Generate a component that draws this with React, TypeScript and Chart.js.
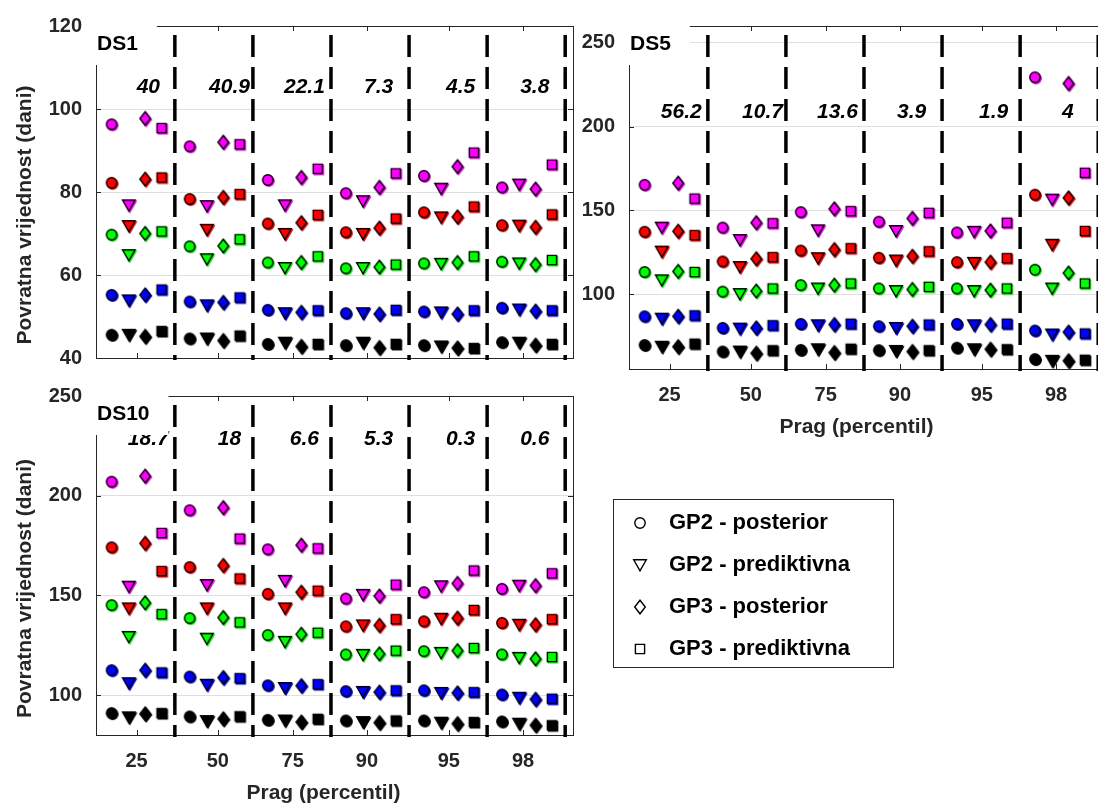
import React, { useEffect, useRef } from 'react';
import { Chart, registerables } from 'chart.js';

Chart.register(...registerables);

const FONT_FAMILY = '"Liberation Sans", Arial, Helvetica, sans-serif';
const AXIS_COLOR = '#262626';
const GRID_COLOR = '#dfdfdf';

// one colour per row of every model array
const SERIES_COLORS = ['#000000', '#0000ff', '#00ff00', '#ff0000', '#ff00ff'];

const MODEL_NAMES = ['GP2 - posterior', 'GP2 - prediktivna', 'GP3 - posterior', 'GP3 - prediktivna'];
const MODEL_SHAPES = ['circle', 'triangleDown', 'diamond', 'square'];
const MODEL_X_OFFSETS = [-0.31, -0.09, 0.12, 0.33];

const PERCENTILE_LABELS = ['25', '50', '75', '90', '95', '98'];
const PERCENTILE_TICKS = [1.01, 2.05, 3.01, 3.96, 5.01, 5.96];
const GROUP_POSITIONS = [1, 2, 3, 4, 5, 6];
const GROUP_SEPARATORS = [1.5, 2.5, 3.5, 4.5, 5.5, 6.5];
const X_MIN = 0.49;
const X_MAX = 6.6;

const X_TITLE = 'Prag (percentil)';
const Y_TITLE = 'Povratna vrijednost (dani)';

// ---------------- DS1 ----------------
const DS1_Y_TICKS = [40, 60, 80, 100, 120];
const DS1_NUMBERS = ['40', '40.9', '22.1', '7.3', '4.5', '3.8'];
const DS1_GP2_POSTERIOR = [
  [45.6, 44.7, 43.4, 43.1, 43.1, 43.8],
  [55.2, 53.6, 51.6, 50.8, 51.2, 52.1],
  [69.7, 66.9, 63.0, 61.6, 62.8, 63.2],
  [82.2, 78.3, 72.4, 70.3, 75.1, 72.0],
  [96.3, 91.0, 82.9, 79.7, 83.9, 81.1],
];
const DS1_GP2_PREDICTIVE = [
  [45.6, 44.7, 43.7, 43.7, 42.8, 43.7],
  [53.9, 52.7, 50.8, 50.8, 51.0, 51.7],
  [64.8, 63.8, 61.7, 61.7, 62.7, 62.8],
  [71.8, 70.9, 69.9, 69.9, 73.9, 71.9],
  [76.8, 76.6, 76.8, 77.8, 80.8, 81.8],
];
const DS1_GP3_POSTERIOR = [
  [45.2, 44.2, 42.8, 42.5, 42.4, 43.1],
  [55.2, 53.4, 51.0, 50.6, 50.6, 51.3],
  [70.0, 67.0, 63.0, 61.9, 63.0, 62.5],
  [83.1, 78.7, 72.6, 71.3, 74.0, 71.5],
  [97.7, 92.0, 83.5, 81.1, 86.1, 80.7],
];
const DS1_GP3_PREDICTIVE = [
  [46.5, 45.4, 43.4, 43.4, 42.4, 43.4],
  [56.5, 54.6, 51.5, 51.6, 51.5, 51.5],
  [70.5, 68.6, 64.5, 62.5, 64.5, 63.6],
  [83.5, 79.5, 74.5, 73.6, 76.5, 74.6],
  [95.4, 91.5, 85.6, 84.5, 89.5, 86.6],
];

// ---------------- DS5 ----------------
const DS5_Y_TICKS = [100, 150, 200, 250];
const DS5_NUMBERS = ['56.2', '10.7', '13.6', '3.9', '1.9', '4'];
const DS5_GP2_POSTERIOR = [
  [69.8, 65.9, 66.9, 66.7, 68.2, 61.4],
  [86.9, 80.0, 82.4, 81.0, 82.4, 78.4],
  [113.3, 101.6, 105.5, 103.5, 103.5, 114.7],
  [137.3, 119.6, 126.1, 121.8, 119.2, 159.4],
  [165.3, 139.8, 149.0, 143.3, 136.9, 229.4],
];
const DS5_GP2_PREDICTIVE = [
  [68.8, 65.9, 67.3, 66.3, 67.3, 60.4],
  [85.5, 79.6, 81.6, 80.0, 81.6, 76.1],
  [108.4, 100.2, 103.5, 102.0, 102.0, 103.5],
  [125.5, 116.3, 121.6, 120.2, 118.8, 129.6],
  [139.8, 132.4, 138.2, 137.8, 137.3, 156.5],
];
const DS5_GP3_POSTERIOR = [
  [68.8, 64.9, 65.3, 65.9, 67.3, 60.4],
  [86.9, 80.0, 82.0, 81.0, 82.0, 77.5],
  [113.7, 102.0, 105.5, 102.9, 102.5, 112.7],
  [137.6, 121.2, 126.7, 122.7, 119.2, 157.5],
  [166.3, 142.7, 151.0, 145.3, 137.8, 225.7],
];
const DS5_GP3_PREDICTIVE = [
  [70.6, 66.7, 67.6, 66.7, 67.3, 61.0],
  [87.5, 81.6, 82.5, 82.0, 82.5, 76.7],
  [113.3, 103.5, 106.5, 104.5, 103.5, 106.5],
  [135.3, 122.2, 127.5, 125.7, 121.6, 137.8],
  [157.1, 142.4, 149.6, 148.6, 142.7, 172.5],
];

// ---------------- DS10 ----------------
const DS10_Y_TICKS = [100, 150, 200, 250];
const DS10_NUMBERS = ['18.7', '18', '6.6', '5.3', '0.3', '0.6'];
const DS10_GP2_POSTERIOR = [
  [91.0, 89.3, 87.6, 87.3, 87.3, 86.8],
  [112.5, 109.3, 104.9, 102.0, 102.4, 100.3],
  [145.1, 138.6, 130.1, 120.4, 122.0, 120.4],
  [174.1, 164.2, 150.8, 134.5, 137.0, 136.2],
  [207.0, 192.7, 173.1, 148.4, 151.6, 153.3],
];
const DS10_GP2_PREDICTIVE = [
  [88.9, 87.0, 87.3, 86.5, 86.2, 85.7],
  [106.0, 105.2, 103.6, 101.6, 101.1, 98.7],
  [129.2, 128.3, 126.7, 120.2, 121.2, 118.7],
  [143.5, 143.5, 143.5, 135.0, 138.3, 135.3],
  [154.4, 155.2, 157.3, 150.3, 154.6, 154.9],
];
const DS10_GP3_POSTERIOR = [
  [90.6, 88.1, 86.5, 86.2, 85.7, 84.9],
  [112.5, 108.8, 104.7, 101.5, 101.1, 97.9],
  [146.3, 138.9, 130.5, 120.7, 122.3, 118.2],
  [176.1, 165.0, 151.6, 135.0, 138.6, 135.3],
  [209.8, 194.0, 175.2, 149.7, 156.0, 154.9],
];
const DS10_GP3_PREDICTIVE = [
  [91.0, 89.4, 88.1, 87.3, 86.5, 84.9],
  [111.4, 108.5, 105.5, 102.4, 101.5, 98.2],
  [140.6, 136.5, 131.3, 122.3, 123.6, 119.1],
  [162.2, 158.5, 152.4, 138.1, 142.7, 138.1],
  [181.3, 178.5, 173.6, 155.4, 162.5, 161.1],
];

const PANELS = {
  ds1: {
    label: 'DS1',
    models: [DS1_GP2_POSTERIOR, DS1_GP2_PREDICTIVE, DS1_GP3_POSTERIOR, DS1_GP3_PREDICTIVE],
    numbers: DS1_NUMBERS,
    yTicks: DS1_Y_TICKS,
    yMin: 40,
    yMax: 120,
    numbersY: 105.3,
  },
  ds5: {
    label: 'DS5',
    models: [DS5_GP2_POSTERIOR, DS5_GP2_PREDICTIVE, DS5_GP3_POSTERIOR, DS5_GP3_PREDICTIVE],
    numbers: DS5_NUMBERS,
    yTicks: DS5_Y_TICKS,
    yMin: 55.5,
    yMax: 260,
    numbersY: 208.8,
  },
  ds10: {
    label: 'DS10',
    models: [DS10_GP2_POSTERIOR, DS10_GP2_PREDICTIVE, DS10_GP3_POSTERIOR, DS10_GP3_PREDICTIVE],
    numbers: DS10_NUMBERS,
    yTicks: DS10_Y_TICKS,
    yMin: 80,
    yMax: 250,
    numbersY: 228.5,
  },
};

// ---------------- marker images ----------------
function shapePath(ctx: CanvasRenderingContext2D, shape: string, cx: number, cy: number) {
  ctx.beginPath();
  if (shape === 'circle') {
    ctx.arc(cx, cy, 5.2, 0, Math.PI * 2);
  } else if (shape === 'triangleDown') {
    ctx.moveTo(cx - 6.3, cy - 5.2);
    ctx.lineTo(cx + 6.3, cy - 5.2);
    ctx.lineTo(cx, cy + 5.8);
    ctx.closePath();
  } else if (shape === 'diamond') {
    ctx.moveTo(cx, cy - 6.8);
    ctx.lineTo(cx + 5.3, cy);
    ctx.lineTo(cx, cy + 6.8);
    ctx.lineTo(cx - 5.3, cy);
    ctx.closePath();
  } else {
    ctx.rect(cx - 4.6, cy - 4.6, 9.2, 9.2);
  }
}

function makeMarker(shape: string, fill: string | null, edge: string, shadow: string | null) {
  const c = document.createElement('canvas');
  c.width = 22;
  c.height = 22;
  const ctx = c.getContext('2d') as CanvasRenderingContext2D;
  const m = 11;
  if (shadow) {
    shapePath(ctx, shape, m + 1.1, m + 1.1);
    ctx.fillStyle = shadow;
    ctx.fill();
    ctx.lineWidth = 1.4;
    ctx.strokeStyle = shadow;
    ctx.stroke();
  }
  shapePath(ctx, shape, m, m);
  if (fill) {
    ctx.fillStyle = fill;
    ctx.fill();
  }
  ctx.lineWidth = 1.4;
  ctx.strokeStyle = edge;
  ctx.stroke();
  return c;
}

// ---------------- decoration plugin ----------------
const decorPlugin = {
  id: 'decor',
  beforeDatasetsDraw(chart: any, _args: any, opts: any) {
    const { ctx, chartArea: a, scales } = chart;
    const x = scales.x;
    const y = scales.y;
    ctx.save();
    // box
    ctx.strokeStyle = AXIS_COLOR;
    ctx.lineWidth = 1;
    ctx.setLineDash([]);
    ctx.strokeRect(Math.round(a.left) + 0.5, Math.round(a.top) + 0.5, Math.round(a.right - a.left), Math.round(a.bottom - a.top));
    // inner tick marks
    ctx.beginPath();
    x.ticks.forEach((t: any) => {
      const px = Math.round(x.getPixelForValue(t.value)) + 0.5;
      ctx.moveTo(px, a.bottom);
      ctx.lineTo(px, a.bottom - 5);
      ctx.moveTo(px, a.top);
      ctx.lineTo(px, a.top + 5);
    });
    y.ticks.forEach((t: any) => {
      const py = Math.round(y.getPixelForValue(t.value)) + 0.5;
      ctx.moveTo(a.left, py);
      ctx.lineTo(a.left + 5, py);
      ctx.moveTo(a.right, py);
      ctx.lineTo(a.right - 5, py);
    });
    ctx.stroke();
    // group separators
    ctx.setLineDash([22, 10]);
    ctx.lineDashOffset = 23;
    ctx.lineWidth = 3.5;
    ctx.strokeStyle = '#000';
    GROUP_SEPARATORS.forEach((s) => {
      const px = x.getPixelForValue(s);
      ctx.beginPath();
      ctx.moveTo(px, a.top);
      ctx.lineTo(px, a.bottom + 2);
      ctx.stroke();
    });
    ctx.restore();
  },
  afterDraw(chart: any, _args: any, opts: any) {
    const { ctx, chartArea: a, scales } = chart;
    const x = scales.x;
    const y = scales.y;
    ctx.save();
    // group numbers
    ctx.font = `italic bold 21px ${FONT_FAMILY}`;
    ctx.fillStyle = '#000';
    ctx.textAlign = 'center';
    ctx.textBaseline = 'middle';
    (opts.numbers || []).forEach((t: string, i: number) => {
      ctx.fillText(t, x.getPixelForValue(PERCENTILE_TICKS[i] + 0.15), y.getPixelForValue(opts.numbersY));
    });
    // white label box + panel label
    ctx.font = `bold 21px ${FONT_FAMILY}`;
    const w = ctx.measureText(opts.label).width;
    const tx = a.left + 1;
    ctx.fillStyle = '#fff';
    ctx.fillRect(a.left - 7, a.top - 8, tx + w + 19 - (a.left - 7), 47);
    ctx.fillStyle = '#000';
    ctx.textAlign = 'left';
    ctx.textBaseline = 'alphabetic';
    ctx.fillText(opts.label, tx, a.top + 24);
    // axis titles
    ctx.fillStyle = AXIS_COLOR;
    ctx.textAlign = 'center';
    ctx.textBaseline = 'middle';
    if (opts.xTitle) {
      ctx.fillText(opts.xTitle, (a.left + a.right) / 2 - 11, a.bottom + 58);
    }
    if (opts.yTitle) {
      ctx.translate(a.left - 71, (a.top + a.bottom) / 2 + 23);
      ctx.rotate(-Math.PI / 2);
      ctx.fillText(opts.yTitle, 0, 0);
    }
    ctx.restore();
  },
};

type PanelProps = {
  cfg: any;
  left: number;
  top: number;
  width: number;
  height: number;
  padTop: number;
  padRight: number;
  yWidth: number;
  xHeight: number;
  showXLabels: boolean;
  showXTitle: boolean;
  showYTitle: boolean;
};

function Panel(p: PanelProps) {
  const ref = useRef<HTMLCanvasElement | null>(null);
  useEffect(() => {
    const markers = MODEL_SHAPES.map((shape) => SERIES_COLORS.map((col) => makeMarker(shape, col, '#000', col)));
    const datasets: any[] = [];
    p.cfg.models.forEach((rows: number[][], m: number) => {
      rows.forEach((vals: number[], c: number) => {
        datasets.push({
          label: `${MODEL_NAMES[m]} (${c + 1})`,
          data: vals.map((v, g) => ({ x: GROUP_POSITIONS[g] + MODEL_X_OFFSETS[m], y: v })),
          pointStyle: markers[m][c],
          pointRadius: 6,
          pointHoverRadius: 6,
          showLine: false,
        });
      });
    });
    const tickFont = { family: FONT_FAMILY, size: 20, weight: 'bold' as const };
    const chart = new Chart(ref.current as HTMLCanvasElement, {
      type: 'scatter',
      data: { datasets },
      options: {
        responsive: false,
        animation: false,
        devicePixelRatio: 1,
        events: [],
        layout: { padding: { top: p.padTop, right: p.padRight, left: 0, bottom: 0 } },
        plugins: {
          legend: { display: false },
          tooltip: { enabled: false },
          decor: {
            label: p.cfg.label,
            numbers: p.cfg.numbers,
            numbersY: p.cfg.numbersY,
            xTitle: p.showXTitle ? X_TITLE : '',
            yTitle: p.showYTitle ? Y_TITLE : '',
          },
        } as any,
        scales: {
          x: {
            type: 'linear',
            min: X_MIN,
            max: X_MAX,
            afterBuildTicks: (s: any) => {
              s.ticks = PERCENTILE_TICKS.map((v) => ({ value: v }));
            },
            afterFit: (s: any) => {
              s.height = p.xHeight;
            },
            grid: { display: false, drawTicks: false },
            border: { display: false },
            ticks: {
              display: p.showXLabels,
              autoSkip: false,
              maxRotation: 0,
              padding: 14,
              color: AXIS_COLOR,
              font: tickFont,
              callback: (_v: any, i: number) => PERCENTILE_LABELS[i],
            },
          },
          y: {
            type: 'linear',
            min: p.cfg.yMin,
            max: p.cfg.yMax,
            afterBuildTicks: (s: any) => {
              s.ticks = p.cfg.yTicks.map((v: number) => ({ value: v }));
            },
            afterFit: (s: any) => {
              s.width = p.yWidth;
            },
            grid: { color: GRID_COLOR, drawTicks: false, lineWidth: 1 },
            border: { display: false },
            ticks: {
              padding: 14,
              color: AXIS_COLOR,
              font: tickFont,
              callback: (v: any) => String(v),
            },
          },
        },
      } as any,
      plugins: [decorPlugin],
    });
    return () => chart.destroy();
  }, []);
  return (
    <canvas
      ref={ref}
      width={p.width}
      height={p.height}
      style={{ position: 'absolute', left: p.left, top: p.top, width: p.width, height: p.height }}
    />
  );
}

function Legend() {
  const ref = useRef<HTMLCanvasElement | null>(null);
  useEffect(() => {
    const legendMarkers = MODEL_SHAPES.map((shape) => makeMarker(shape, '#ffffff', '#000', null));
    const chart = new Chart(ref.current as HTMLCanvasElement, {
      type: 'scatter',
      data: { datasets: [] },
      options: {
        responsive: false,
        animation: false,
        devicePixelRatio: 1,
        events: [],
        layout: { padding: 0 },
        scales: { x: { display: false }, y: { display: false } },
        plugins: {
          tooltip: { enabled: false },
          legend: {
            display: true,
            position: 'left',
            align: 'start',
            labels: {
              usePointStyle: true,
              pointStyleWidth: 36,
              padding: 20,
              color: '#000',
              font: { family: FONT_FAMILY, size: 22, weight: 'bold' },
              generateLabels: () =>
                MODEL_NAMES.map((name, i) => ({
                  text: name,
                  fillStyle: '#fff',
                  strokeStyle: '#000',
                  lineWidth: 1,
                  pointStyle: legendMarkers[i],
                  hidden: false,
                  datasetIndex: i,
                  fontColor: '#000',
                })),
            },
          },
        },
      } as any,
    });
    return () => chart.destroy();
  }, []);
  return (
    <div
      style={{
        position: 'absolute',
        left: 613,
        top: 499,
        width: 281,
        height: 169,
        boxSizing: 'border-box',
        border: `1px solid ${AXIS_COLOR}`,
        overflow: 'hidden',
        background: '#fff',
      }}
    >
      <canvas
        ref={ref}
        width={600}
        height={220}
        style={{ position: 'absolute', left: -12, top: -8, width: 600, height: 220 }}
      />
    </div>
  );
}

export default function App() {
  return (
    <div
      style={{
        position: 'absolute',
        left: 0,
        top: 0,
        width: 1098,
        height: 805,
        overflow: 'hidden',
        background: '#fff',
      }}
    >
      <Panel cfg={PANELS.ds1} left={0} top={0} width={600} height={384} padTop={21} padRight={27} yWidth={96} xHeight={15} showXLabels={false} showXTitle={false} showYTitle={true} />
      <Panel cfg={PANELS.ds5} left={540} top={0} width={590} height={460} padTop={21} padRight={24} yWidth={89} xHeight={91} showXLabels={true} showXTitle={true} showYTitle={false} />
      <Panel cfg={PANELS.ds10} left={0} top={370} width={600} height={435} padTop={17} padRight={27} yWidth={96} xHeight={70} showXLabels={true} showXTitle={true} showYTitle={true} />
      <Legend />
    </div>
  );
}
